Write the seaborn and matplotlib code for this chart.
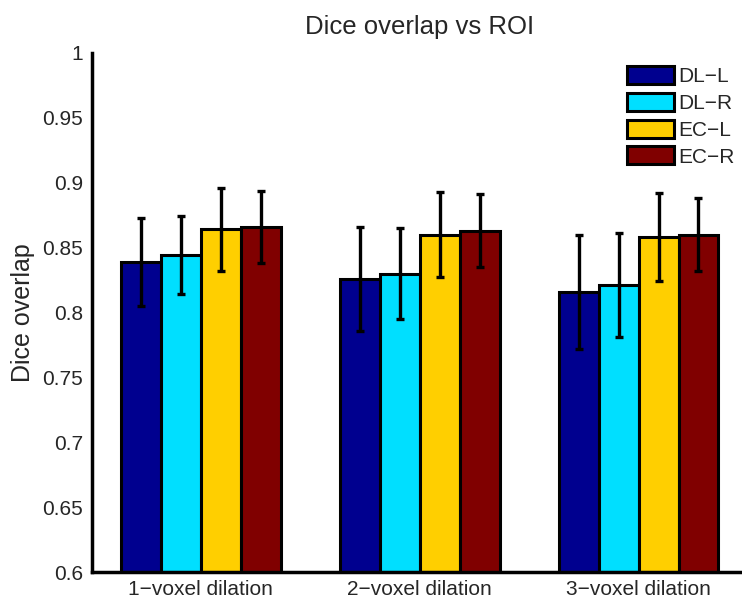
import numpy as np
import pandas as pd
import matplotlib
matplotlib.use("Agg")
import matplotlib.pyplot as plt
import seaborn as sns

# values
settings = ['1\u2212voxel dilation', '2\u2212voxel dilation', '3\u2212voxel dilation']
rois = ['DL\u2212L', 'DL\u2212R', 'EC\u2212L', 'EC\u2212R']
dice_mean = {
    'DL\u2212L': [0.839, 0.826, 0.816],
    'DL\u2212R': [0.844, 0.830, 0.821],
    'EC\u2212L': [0.864, 0.860, 0.858],
    'EC\u2212R': [0.866, 0.863, 0.860],
}
dice_err = {
    'DL\u2212L': [0.034, 0.040, 0.044],
    'DL\u2212R': [0.030, 0.035, 0.040],
    'EC\u2212L': [0.032, 0.033, 0.034],
    'EC\u2212R': [0.028, 0.028, 0.028],
}
roi_colors = ['#00008F', '#00DFFF', '#FFCF00', '#800000']

rows = []
for roi in rois:
    for s, m, e in zip(settings, dice_mean[roi], dice_err[roi]):
        rows.append({'setting': s, 'roi': roi, 'dice': m, 'err': e})
df = pd.DataFrame(rows)

sns.set_style('white')
plt.rcParams['font.family'] = ['Liberation Sans', 'DejaVu Sans']

fig = plt.figure(figsize=(7.42, 5.99), dpi=100)
# axes runs off the right edge, as in the reference
ax = fig.add_axes([91.5 / 742, 1 - 572 / 599, (748 - 91.5) / 742, (572 - 53) / 599])

sns.barplot(data=df, x='setting', y='dice', hue='roi', palette=roi_colors,
            errorbar=None, width=0.73, gap=0, edgecolor='black', linewidth=2.2,
            saturation=1, ax=ax)

# error bars on top of each bar
for cont, roi in zip(ax.containers, rois):
    xs = [b.get_x() + b.get_width() / 2 for b in cont]
    ax.errorbar(xs, dice_mean[roi], yerr=dice_err[roi], fmt='none', ecolor='black',
                elinewidth=2.4, capsize=3.0, capthick=2.4, zorder=5)

ax.set_ylim(0.6, 1.0)
ax.set_xlim(-0.5, 2.5)
ax.set_yticks(np.arange(0.6, 1.001, 0.05))
ax.set_yticklabels(['0.6', '0.65', '0.7', '0.75', '0.8', '0.85', '0.9', '0.95', '1'])
ax.tick_params(direction='in', length=5, width=1.5, labelsize=15, pad=6)
ax.set_xlabel('')
ax.set_ylabel('Dice overlap', fontsize=18, labelpad=5)
ax.set_title('Dice overlap vs ROI', fontsize=18.5, pad=13.5)

for side in ['top', 'right']:
    ax.spines[side].set_visible(False)
for side in ['left', 'bottom']:
    ax.spines[side].set_linewidth(2.5)
    ax.spines[side].set_color('black')

leg = ax.legend(loc='upper left', bbox_to_anchor=(627 / 742, 1 - 66 / 599),
                bbox_transform=fig.transFigure, borderaxespad=0, borderpad=0,
                frameon=False, fontsize=15, handlelength=2.25, handleheight=0.95,
                labelspacing=0.32, handletextpad=0.2)
for h in leg.legend_handles:
    h.set_edgecolor('black')
    h.set_linewidth(2.2)

fig.savefig('out.png', dpi=100)
